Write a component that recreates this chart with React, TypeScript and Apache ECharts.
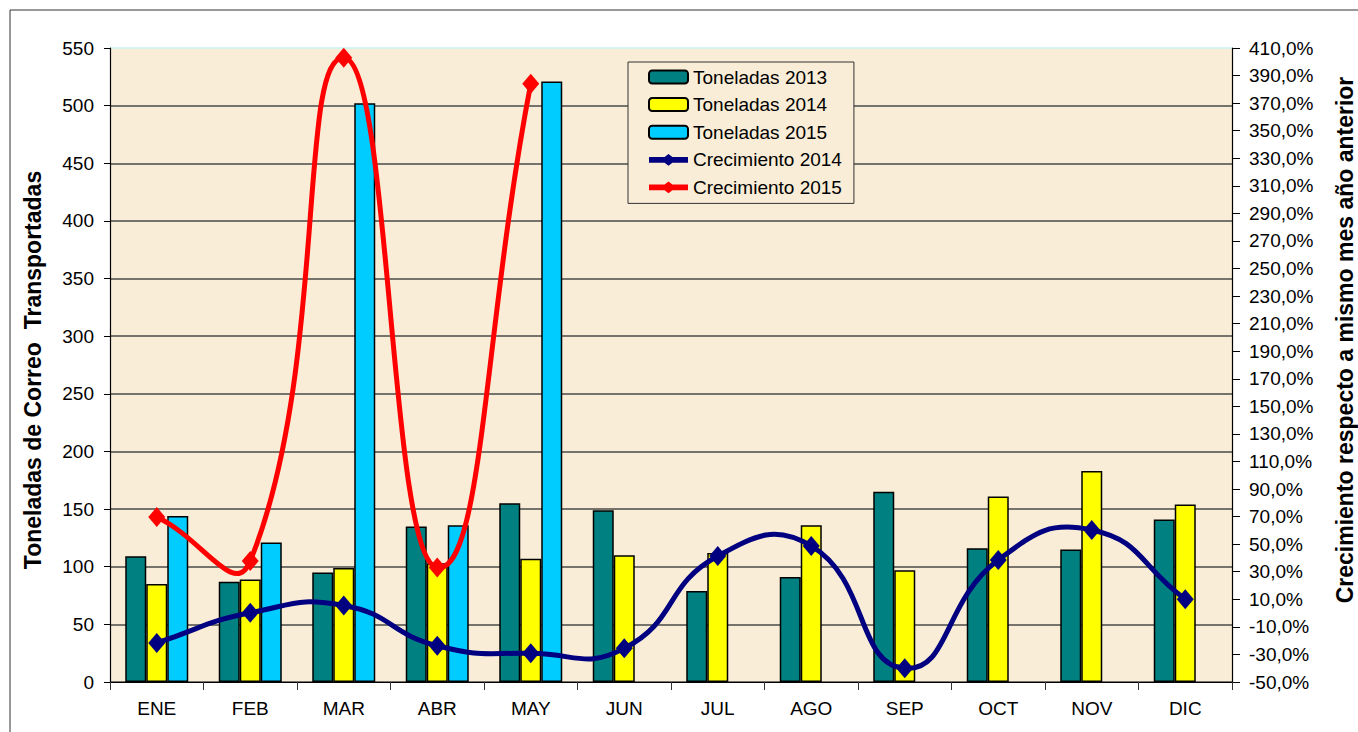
import React, { useEffect, useRef } from "react";
import * as echarts from "echarts";

const categories = ["ENE", "FEB", "MAR", "ABR", "MAY", "JUN", "JUL", "AGO", "SEP", "OCT", "NOV", "DIC"];
const ton2013 = [109, 87, 95, 135, 155, 149, 79, 91, 165, 116, 115, 141];
const ton2014 = [85, 89, 99, 103, 107, 110, 112, 136, 97, 161, 183, 154];
const ton2015: (number | null)[] = [144, 121, 502, 136, 521, null, null, null, null, null, null, null];
const crec2014: (number | null)[] = [-21.7, 0.2, 5.5, -23.7, -29.2, -25.6, 41.4, 48.7, -40.1, 38.5, 60.3, 10.0];
const crec2015: (number | null)[] = [69.7, 37.8, 403, 33, 384, null, null, null, null, null, null, null];

const RIGHT_MIN = -50; // right axis bottom value (%)
const RIGHT_MAX = 410;

const FONT = "'Liberation Sans', Arial, sans-serif";
const LINE_ICON = "path://M0,3 L16,3 L20,0 L24,3 L40,3 L40,9 L24,9 L20,12 L16,9 L0,9 Z";

function makeRender(values: (number | null)[], color: string) {
  const pts = values.map((v, i) => (v == null ? null : [i, v - RIGHT_MIN]));
  const SMOOTH = 0.5;
  return (params: any, api: any) => {
    const i = api.value(0) as number;
    const P = (k: number): number[] | null => {
      if (k < 0 || k >= pts.length) return null;
      const p = pts[k];
      return p ? api.coord(p) : null;
    };
    const cur = P(i)!;
    const next = P(i + 1);
    const children: any[] = [];
    const ctrl = (prev: number[], x: number[], nxt: number[]) => {
      const vx = nxt[0] - prev[0];
      const vy = nxt[1] - prev[1];
      const lp = Math.hypot(x[0] - prev[0], x[1] - prev[1]);
      const ln = Math.hypot(nxt[0] - x[0], nxt[1] - x[1]);
      const r = lp + ln > 0 ? ln / (lp + ln) : 0.5;
      return {
        before: [x[0] - vx * SMOOTH * (1 - r), x[1] - vy * SMOOTH * (1 - r)],
        after: [x[0] + vx * SMOOTH * r, x[1] + vy * SMOOTH * r],
      };
    };
    if (next) {
      const prev = P(i - 1) || cur;
      const next2 = P(i + 2) || next;
      const c1 = ctrl(prev, cur, next).after;
      const c2 = ctrl(cur, next, next2).before;
      children.push({
        type: "bezierCurve",
        shape: {
          x1: cur[0], y1: cur[1], x2: next[0], y2: next[1],
          cpx1: c1[0], cpy1: c1[1], cpx2: c2[0], cpy2: c2[1],
        },
        style: { stroke: color, lineWidth: 5, fill: null, lineCap: "round" },
      });
    }
    children.push({
      type: "polygon",
      shape: {
        points: [
          [cur[0], cur[1] - 10],
          [cur[0] + 8.5, cur[1]],
          [cur[0], cur[1] + 10],
          [cur[0] - 8.5, cur[1]],
        ],
      },
      style: { fill: color },
    });
    return { type: "group", children };
  };
}

export default function App() {
  const ref = useRef<HTMLDivElement>(null);
  useEffect(() => {
    document.body.style.margin = "0";
    const chart = echarts.init(ref.current!, null, { renderer: "svg" });
    const toData = (arr: (number | null)[]) =>
      arr.map((v, i) => (v == null ? null : [i, v - RIGHT_MIN])).filter((d) => d != null);
    const gridColors = Array.from({ length: 11 }, () => "#4a4a4a").concat(["#c8f4f4"]);
    chart.setOption({
      animation: false,
      backgroundColor: "#ffffff",
      textStyle: { fontFamily: FONT },
      grid: {
        left: 110,
        right: 126,
        top: 48,
        bottom: 50,
        show: true,
        backgroundColor: "#F9EDD7",
        borderWidth: 0,
      },
      legend: {
        orient: "vertical",
        left: 628,
        top: 62,
        width: 230,
        padding: [5, 12, 6, 20],
        itemWidth: 39,
        itemHeight: 13,
        itemGap: 7.6,
        borderColor: "#333",
        borderWidth: 1,
        backgroundColor: "#F9EDD7",
        textStyle: { fontSize: 19, color: "#000", fontFamily: FONT, lineHeight: 20 },
        data: [
          "Toneladas 2013",
          "Toneladas 2014",
          "Toneladas 2015",
          { name: "Crecimiento 2014", icon: LINE_ICON },
          { name: "Crecimiento 2015", icon: LINE_ICON },
        ],
      },
      xAxis: {
        type: "category",
        data: categories,
        axisLine: { lineStyle: { color: "#000", width: 1.2 } },
        axisTick: { show: true, length: 8, lineStyle: { color: "#333" } },
        axisLabel: { fontSize: 19, color: "#000", margin: 17, fontFamily: FONT },
      },
      yAxis: [
        {
          type: "value",
          min: 0,
          max: 550,
          interval: 50,
          axisLine: { show: true, lineStyle: { color: "#000", width: 1.2 } },
          axisTick: { show: true, length: 6, lineStyle: { color: "#000" } },
          axisLabel: { fontSize: 19, color: "#000", margin: 16, fontFamily: FONT },
          splitLine: { show: true, lineStyle: { color: gridColors, width: 1.5 } },
        },
        {
          type: "value",
          min: 0,
          max: RIGHT_MAX - RIGHT_MIN,
          interval: 20,
          position: "right",
          axisLine: { show: true, lineStyle: { color: "#000", width: 1.2 } },
          axisTick: { show: true, length: 8, lineStyle: { color: "#000" } },
          axisLabel: {
            fontSize: 19,
            color: "#000",
            margin: 17,
            fontFamily: FONT,
            formatter: (v: number) => (v + RIGHT_MIN).toFixed(1).replace(".", ",") + "%",
          },
          splitLine: { show: false },
        },
      ],
      series: [
        {
          name: "Toneladas 2013",
          type: "bar",
          data: ton2013,
          barWidth: 21,
          barGap: "0%",
          itemStyle: { color: "#008080", borderColor: "#000", borderWidth: 1.5 },
        },
        {
          name: "Toneladas 2014",
          type: "bar",
          data: ton2014,
          barWidth: 21,
          barGap: "0%",
          itemStyle: { color: "#FFFF00", borderColor: "#000", borderWidth: 1.5 },
        },
        {
          name: "Toneladas 2015",
          type: "bar",
          data: ton2015,
          barWidth: 21,
          barGap: "0%",
          itemStyle: { color: "#00CCFF", borderColor: "#000", borderWidth: 1.5 },
        },
        {
          name: "Crecimiento 2014",
          type: "custom",
          yAxisIndex: 1,
          data: toData(crec2014),
          renderItem: makeRender(crec2014, "#000080"),
          itemStyle: { color: "#000080" },
          clip: false,
          z: 5,
        },
        {
          name: "Crecimiento 2015",
          type: "custom",
          yAxisIndex: 1,
          data: toData(crec2015),
          renderItem: makeRender(crec2015, "#FF0000"),
          itemStyle: { color: "#FF0000" },
          clip: false,
          z: 6,
        },
      ],
      graphic: [
        {
          type: "rect",
          shape: { x: 10, y: 10, width: 1400, height: 800 },
          style: { fill: "none", stroke: "#333", lineWidth: 1 },
          silent: true,
          z: -10,
        },
        {
          type: "text",
          x: 33,
          y: 370,
          rotation: Math.PI / 2,
          style: {
            text: "Toneladas de Correo  Transportadas",
            font: "bold 23px " + FONT,
            fill: "#000",
            align: "center",
            verticalAlign: "middle",
          },
        },
        {
          type: "text",
          x: 1345,
          y: 340,
          rotation: Math.PI / 2,
          style: {
            text: "Crecimiento respecto a mismo mes año anterior",
            font: "bold 23px " + FONT,
            fill: "#000",
            align: "center",
            verticalAlign: "middle",
          },
        },
      ],
    });
    return () => chart.dispose();
  }, []);
  return <div ref={ref} style={{ width: 1358, height: 732 }} />;
}
